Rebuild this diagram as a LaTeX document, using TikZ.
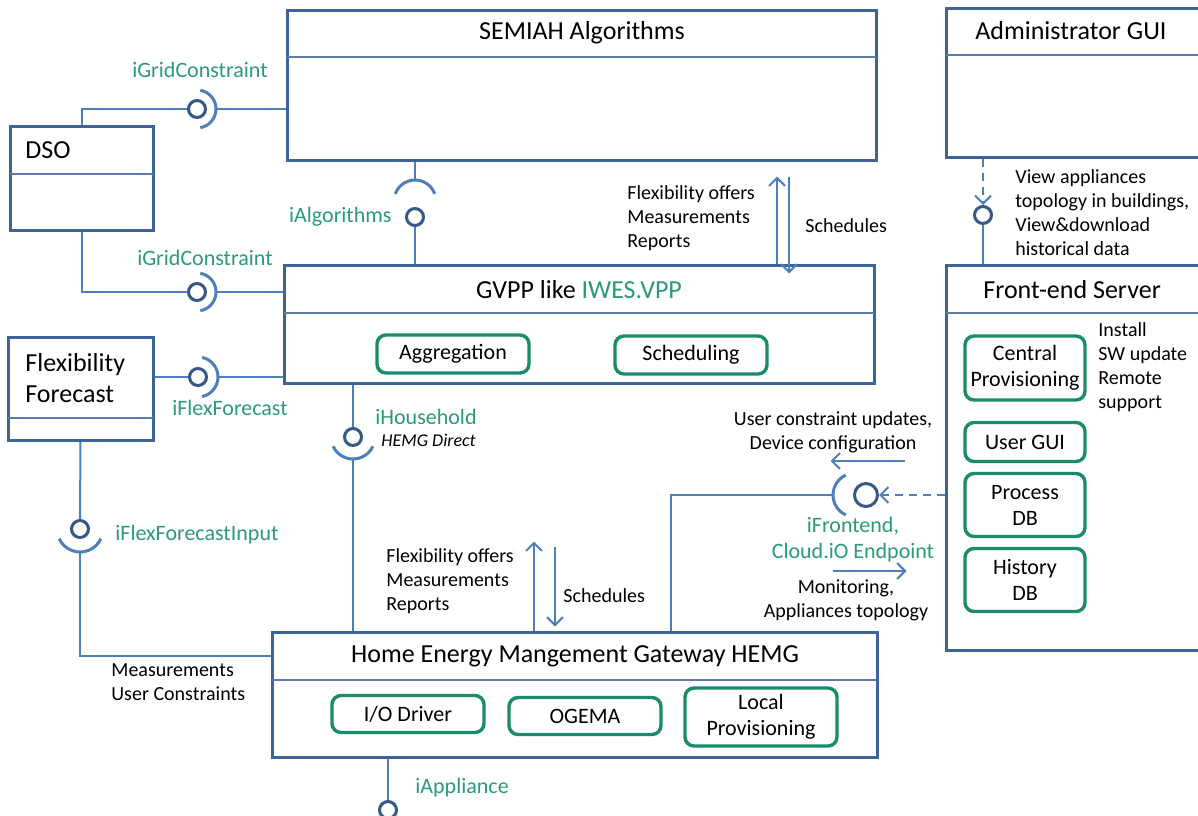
\documentclass[tikz,border=0pt]{standalone}
\usepackage{fontspec}
\setmainfont{Carlito}
\usetikzlibrary{arrows.meta,fit,calc}
\definecolor{boxblue}{HTML}{3E6497}
\definecolor{linkblue}{HTML}{4F7FBA}
\definecolor{ballblue}{HTML}{365886}
\definecolor{partgreen}{HTML}{1A8C6C}
\definecolor{ifgreen}{HTML}{2A9A7A}
\begin{document}
\begin{tikzpicture}[x=0.5pt, y=0.5pt,
    comp/.style={draw=boxblue, line width=1.5pt, fill=white, inner sep=0pt},
    divider/.style={draw=boxblue!85, line width=1pt},
    part/.style={draw=partgreen, line width=1.7pt, rounded corners=4.5pt, align=center,
        inner sep=0pt, font=\fontsize{11}{13}\selectfont},
    title/.style={inner sep=0pt, font=\fontsize{13}{15.5}\selectfont},
    iface/.style={inner sep=0pt, text=ifgreen, font=\fontsize{11}{13}\selectfont},
    note/.style={inner sep=0pt, align=left, font=\fontsize{10}{12}\selectfont},
    wire/.style={draw=linkblue, line width=1pt},
    sock/.style={draw=linkblue, line width=1.5pt},
    ball/.style={circle, draw=ballblue, line width=1.5pt, fill=white, inner sep=0pt, minimum size=8.5pt},
    flow/.style={draw=linkblue, line width=1pt, -{Straight Barb[length=4pt, width=8pt]}}]
    \useasboundingbox (0,0) rectangle (1198,-815);
    \clip (0,0) rectangle (1198,-815);

    % components
    \node[comp, fit={(287,-10) (876,-160)}] (semiah) {};
    \draw[divider] (287,-57) -- (876,-57);
    \node[title] (semiaht) at (582,-33) {SEMIAH Algorithms};

    \node[comp, fit={(946,-8) (1215,-157)}] (admin) {};
    \draw[divider] (946,-55) -- (1215,-55);
    \node[title, anchor=west] (admint) at (975,-31) {Administrator GUI};

    \node[comp, fit={(10,-126) (153,-230)}] (dso) {};
    \draw[divider] (10,-174) -- (153,-174);
    \node[title, anchor=west] (dsot) at (25,-150) {DSO};

    \node[comp, fit={(8,-337) (153,-440)}] (fcast) {};
    \draw[divider] (8,-418) -- (153,-418);
    \node[title, anchor=west, align=left] (fcastt) at (25,-378) {Flexibility\\Forecast};

    \node[comp, fit={(284,-265) (874,-383)}] (gvpp) {};
    \draw[divider] (284,-313) -- (874,-313);
    \node[title] (gvppt) at (579,-290) {GVPP like \textcolor{ifgreen}{IWES.VPP}};
    \node[part, minimum width=76pt, minimum height=19pt] (aggr) at (453,-354) {Aggregation};
    \node[part, minimum width=76pt, minimum height=19pt] (sched) at (691,-355) {Scheduling};

    \node[comp, fit={(946,-265) (1215,-650)}] (front) {};
    \draw[divider] (946,-313) -- (1215,-313);
    \node[title, anchor=west] (frontt) at (983,-290) {Front-end Server};
    \node[part, minimum width=60pt, minimum height=32pt] (cprov) at (1025,-368) {Central\\Provisioning};
    \node[part, minimum width=60pt, minimum height=19.5pt] (ugui) at (1025,-442) {User GUI};
    \node[part, minimum width=60pt, minimum height=31.5pt] (pdb) at (1025,-505) {Process\\DB};
    \node[part, minimum width=60pt, minimum height=31.5pt] (hdb) at (1025,-580) {History\\DB};
    \node[note, anchor=west] (prov) at (1098,-367) {Install\\SW update\\Remote\\support};

    \node[comp, fit={(272,-632) (877,-757)}] (hemg) {};
    \draw[divider] (272,-680) -- (877,-680);
    \node[title] (hemgt) at (575,-656) {Home Energy Mangement Gateway HEMG};
    \node[part, minimum width=76pt, minimum height=18.5pt] (iodrv) at (408,-714) {I/O Driver};
    \node[part, minimum width=76pt, minimum height=18.5pt] (ogema) at (585,-716) {OGEMA};
    \node[part, minimum width=76pt, minimum height=29pt] (lprov) at (761,-717) {Local\\Provisioning};

    % interfaces
    \coordinate (algs) at (415,-201);
    \coordinate (fes) at (855,-495);
    \node[ball] (gc1) at (197,-109) {};
    \node[ball] (gc2) at (197,-292) {};
    \node[ball] (alg) at (415,-217) {};
    \node[ball] (ff) at (198,-377) {};
    \node[ball] (ffi) at (80,-529) {};
    \node[ball] (hh) at (353,-437) {};
    \node[ball, minimum size=11.5pt] (fe) at (866,-495) {};
    \node[ball] (adm) at (983,-215) {};
    \node[ball] (app) at (388,-810) {};

    \draw[wire] (dso.north) |- (gc1.west);
    \draw[sock] ([shift={(-80:19)}]gc1.center) arc[start angle=-80, end angle=80, radius=19];
    \draw[wire] ([xshift=9.5pt]gc1.center) -- (gc1 -| semiah.west);
    \draw[wire] (dso.south) |- (gc2.west);
    \draw[sock] ([shift={(-80:19)}]gc2.center) arc[start angle=-80, end angle=80, radius=19];
    \draw[wire] ([xshift=9.5pt]gc2.center) -- (gc2 -| gvpp.west);

    \draw[wire] (algs |- semiah.south) -- ([yshift=10.5pt]algs);
    \draw[sock] ([shift={(20:21)}]algs) arc[start angle=20, end angle=160, radius=21];
    \draw[wire] (alg.south) -- (alg |- gvpp.north);

    \draw[wire] (fcast.east |- ff) -- (ff.west);
    \draw[sock] ([shift={(-78:20)}]ff.center) arc[start angle=-78, end angle=78, radius=20];
    \draw[wire] ([xshift=10pt]ff.center) -- (ff -| gvpp.west);

    \draw[wire] (fcast.south) -- (ffi.north);
    \draw[sock] ([shift={(205:23)}]ffi.center) arc[start angle=205, end angle=335, radius=23];
    \draw[wire] ([yshift=-11.5pt]ffi.center) |- (hemgt -| hemg.west);

    \draw[wire] (hh |- gvpp.south) -- (hh.north);
    \draw[sock] ([shift={(205:22)}]hh.center) arc[start angle=205, end angle=335, radius=22];
    \draw[wire] ([yshift=-11pt]hh.center) -- (hh |- hemg.north);

    \draw[sock] ([shift={(115:22)}]fes) arc[start angle=115, end angle=245, radius=22];
    \draw[wire] ([xshift=-11pt]fes) -| ([xshift=48.25pt]hemg.north);
    \draw[flow, dash pattern=on 4pt off 3pt] (fe -| front.west) -- (fe.east);

    \draw[flow, dash pattern=on 4pt off 3pt] (adm |- admin.south) -- (adm.north);
    \draw[wire] (adm.south) -- (adm |- front.north);

    \draw[wire] (app |- hemg.south) -- (app.north);

    % message flows
    \draw[flow] ($(gvpp.north)+(198,0)$) -- ($(semiah.south)+(195.5,-15)$);
    \draw[flow] ($(semiah.south)+(207.5,-15)$) -- ($(gvpp.north)+(210,-10)$);
    \draw[flow] ($(hemg.north)+(-40.5,0)$) -- ($(hemg.north)+(-40.5,89)$);
    \draw[flow] ($(hemg.north)+(-19.5,84)$) -- ($(hemg.north)+(-19.5,4)$);
    \draw[flow] ($(front.west)+(-40,-3.5)$) -- ($(front.west)+(-114,-3.5)$);
    \draw[flow] ($(front.west)+(-112,-113.5)$) -- ($(front.west)+(-38,-113.5)$);

    % labels
    \node[iface] (gc1l) at (200,-70) {iGridConstraint};
    \node[iface] (gc2l) at (205,-258) {iGridConstraint};
    \node[iface, anchor=east] (algl) at (392,-217) {iAlgorithms};
    \node[iface] (ffl) at (230,-408) {iFlexForecast};
    \node[iface, anchor=west] (ffil) at (115,-535) {iFlexForecastInput};
    \node[iface, anchor=west] (hhl) at (375,-417) {iHousehold};
    \node[inner sep=0pt, anchor=west, font=\fontsize{9}{11}\selectfont\itshape] (hhd) at (381,-440) {HEMG Direct};
    \node[iface, align=center] (fel) at (853,-540) {iFrontend,\\Cloud.iO Endpoint};
    \node[iface, anchor=west] (appl) at (415,-788) {iAppliance};

    \node[note, anchor=west] (up1l) at (627,-218) {Flexibility offers\\Measurements\\Reports};
    \node[note, anchor=west] (dn1l) at (805,-226) {Schedules};
    \node[note, anchor=west] (up2l) at (386,-581) {Flexibility offers\\Measurements\\Reports};
    \node[note, anchor=west] (dn2l) at (563,-596) {Schedules};
    \node[note, anchor=west] (measl) at (111,-682) {Measurements\\User Constraints};
    \node[note, align=center] (ucul) at (833,-432) {User constraint updates,\\Device configuration};
    \node[note, align=center] (monl) at (846,-600) {Monitoring,\\Appliances topology};
    \node[note, anchor=west] (viewl) at (1015,-213) {View appliances\\topology in buildings,\\View\&download\\historical data};
\end{tikzpicture}
\end{document}
